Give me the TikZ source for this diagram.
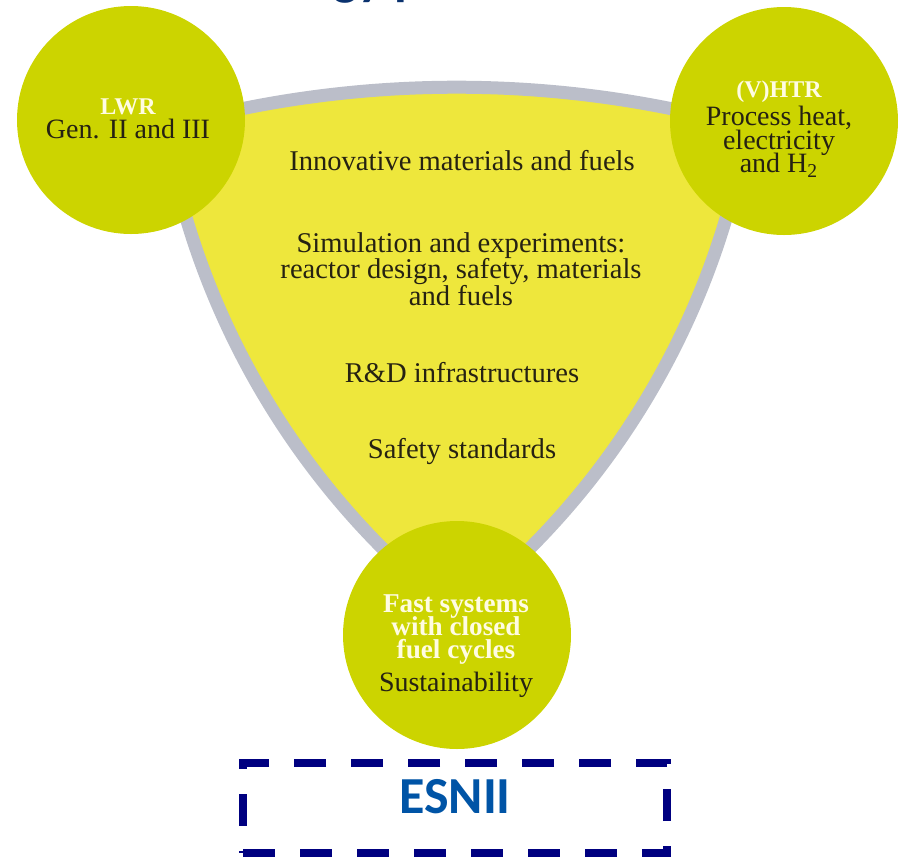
\documentclass[tikz,border=0pt]{standalone}
\usepackage{fontspec}
\setmainfont{Liberation Serif}
\newfontfamily\boxfont{Carlito}
\newcommand{\tightlines}{\lineskiplimit-20pt\relax}

\definecolor{discgreen}{RGB}{204,212,0}
\definecolor{triyellow}{RGB}{238,231,60}
\definecolor{rimgray}{RGB}{187,190,201}
\definecolor{inkdark}{RGB}{38,34,18}
\definecolor{inklight}{RGB}{255,252,226}
\definecolor{esblue}{RGB}{0,84,166}
\definecolor{esnavy}{RGB}{0,0,128}
\definecolor{titleblue}{RGB}{10,50,110}

\begin{document}
\begin{tikzpicture}[x=0.5pt, y=-0.5pt,
	disc/.style={circle, fill=discgreen, minimum size=114pt, inner sep=0pt},
	body/.style={font=\fontsize{14.3}{13.3}\selectfont, text=inkdark, align=center, inner sep=0pt},
	disctext/.style={font=\fontsize{14}{12}\selectfont\tightlines, text=inkdark, align=center, inner sep=0pt}]
	\useasboundingbox (0,0) rectangle (901,858);
	% cut-off heading
	\begin{scope}
		\clip (0,0) rectangle (901,858);
		\node[anchor=base west, inner sep=0pt, text=titleblue, font=\boxfont\bfseries\fontsize{26}{26}\selectfont] (title) at (333,-6) {\llap{Technolo}gy platform};
	\end{scope}
	% curved triangle
	\draw[rimgray, line width=6.5pt, fill=triyellow, line join=round]
		(166,127) arc[start angle=-105.6, end angle=-74.4, radius=1081]
		arc[start angle=9.7, end angle=52.1, radius=784]
		arc[start angle=127.9, end angle=170.3, radius=784] -- cycle;
	\node[body, anchor=base] (materials) at (462,170) {Innovative materials and fuels};
	\node[body] (simulation) at (461,269) {Simulation and experiments:\\reactor design, safety, materials\\and fuels};
	\node[body, anchor=base] (infra) at (462,382) {R\&D infrastructures};
	\node[body, anchor=base] (safety) at (462,458) {Safety standards};
	% the three reactor lines
	\node[disc] (lwr) at (131,120) {};
	\node[disc] (vhtr) at (784,121) {};
	\node[disc] (fast) at (457,635) {};
	\node[disctext] (lwrtext) at (128,119) {{\color{inklight}\fontsize{12}{12}\selectfont\bfseries LWR}\\Gen. II and III};
	\node[disctext, font=\fontsize{14}{11.8}\selectfont\tightlines] (vhtrtext) at (779,129) {{\color{inklight}\fontsize{12}{12}\selectfont\bfseries (V)HTR}\\[2.2pt]Process heat,\\electricity\\and H\textsubscript{2}};
	\node[disctext, font=\fontsize{14}{11.5}\selectfont\tightlines] (fasttext) at (456,646) {{\color{inklight}\fontsize{13.6}{11.5}\selectfont\bfseries Fast systems}\\{\color{inklight}\fontsize{13.6}{11.5}\selectfont\bfseries with closed}\\{\color{inklight}\fontsize{13.6}{11.5}\selectfont\bfseries fuel cycles}\\[5pt]Sustainability};
	% ESNII frame
	\node[draw=esnavy, line width=3.6pt, dash pattern=on 16pt off 12.5pt, minimum width=212pt, minimum height=45pt, inner sep=0pt] (esnii) at (455,808) {};
	\node[inner sep=0pt, text=esblue, font=\boxfont\bfseries\fontsize{26}{26}\selectfont] (esniitext) at (455,797) {ESNII};
\end{tikzpicture}
\end{document}
